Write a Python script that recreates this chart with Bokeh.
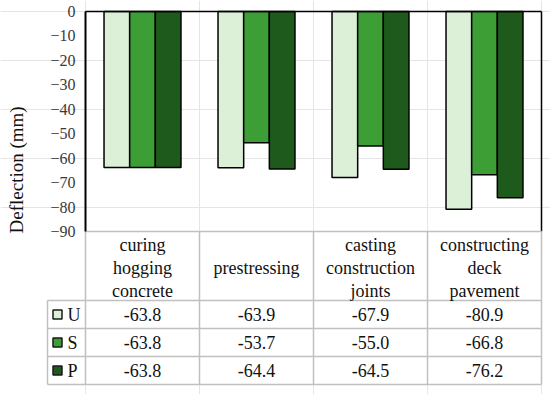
from bokeh.plotting import figure
from bokeh.models import ColumnDataSource, Range1d, LinearAxis, FixedTicker, Label
from bokeh.core.properties import value
from bokeh.embed import file_html
from bokeh.resources import INLINE

# ---------------- data ----------------
categories = ["curing\nhogging\nconcrete", "prestressing",
              "casting\nconstruction\njoints", "constructing\ndeck\npavement"]
series = ["U", "S", "P"]
u_vals = [-63.8, -63.9, -67.9, -80.9]
s_vals = [-63.8, -53.7, -55.0, -66.8]
p_vals = [-63.8, -64.4, -64.5, -76.2]
y_ticks = [0, -10, -20, -30, -40, -50, -60, -70, -80, -90]
y_tick_labels = ["0", "\u221210", "\u221220", "\u221230", "\u221240", "\u221250",
                 "\u221260", "\u221270", "\u221280", "\u221290"]
y_label = "Deflection  (mm)"
colors = ["#DCEFD7", "#3D9E36", "#1E5A1B"]

# ---------------- geometry ----------------
W, H = 550, 394
PLOT_L, PLOT_R = 85, 541
PLOT_T, PLOT_B = 11, 231
LEG_L = 47
HEADER_H, ROW_H = 69, 28
NCAT = len(categories)
XPU = (PLOT_R - PLOT_L) / NCAT
YPU = (PLOT_B - PLOT_T) / 90.0
FONT = "Liberation Serif"
GRID = "#C0C0C0"


def px_x(fx):
    return (fx - PLOT_L) / XPU


def px_y(fy):
    return -(fy - PLOT_T) / YPU


p = figure(width=W, height=H, output_backend="svg", toolbar_location=None,
           x_axis_location=None, y_axis_location=None,
           x_range=Range1d(px_x(0), px_x(W)),
           y_range=Range1d(px_y(H), px_y(0)),
           min_border=0, outline_line_color=None)
p.min_border_left = 0
p.min_border_right = 0
p.min_border_top = 0
p.min_border_bottom = 0
p.background_fill_color = "white"
p.border_fill_color = "white"
p.extra_y_ranges = {"table": Range1d(start=H - PLOT_B, end=-PLOT_B)}

# ---------------- bars ----------------
bw = 0.225
all_vals = [u_vals, s_vals, p_vals]
for j, (name, vals) in enumerate(zip(series, all_vals)):
    xs = [i + 0.5 + (j - 1) * bw for i in range(NCAT)]
    src = ColumnDataSource(dict(x=xs, top=[0] * NCAT, bottom=vals))
    p.vbar(x="x", top="top", bottom="bottom", width=bw, source=src,
           fill_color=colors[j], line_color="black", line_width=1.5)

# frame lines (top & right black)
p.segment(x0=[0, NCAT], y0=[0, 0], x1=[NCAT, NCAT], y1=[0, -90],
          line_color="black", line_width=1.5)

# y axis at fixed location
yax = LinearAxis(fixed_location=0, bounds=(-90, 0),
                 ticker=FixedTicker(ticks=y_ticks),
                 major_label_overrides={t: l for t, l in zip(y_ticks, y_tick_labels)},
                 major_tick_in=0, major_tick_out=0, minor_tick_in=0, minor_tick_out=0,
                 axis_line_color="black", axis_line_width=2,
                 major_label_standoff=10,
                 major_label_text_font=FONT, major_label_text_font_size="16px",
                 major_label_text_color="#3A3A3A")
p.add_layout(yax, "left")

# ---------------- table ----------------
leg_x = px_x(LEG_L)
row_t = [HEADER_H + ROW_H * k for k in range(len(series) + 1)]
hx0 = [0] + [leg_x] * len(row_t)
hx1 = [NCAT] * (len(row_t) + 1)
hy = [0] + row_t
p.segment(x0=hx0, y0=hy, x1=hx1, y1=hy, line_color=GRID, line_width=1.5,
          y_range_name="table")
vx = list(range(NCAT + 1)) + [leg_x]
vy0 = [0] * (NCAT + 1) + [HEADER_H]
vy1 = [row_t[-1]] * (NCAT + 2)
p.segment(x0=vx, y0=vy0, x1=vx, y1=vy1, line_color=GRID, line_width=1.5,
          y_range_name="table")

# header texts
p.text(x=[i + 0.5 for i in range(NCAT)], y=[HEADER_H / 2 + 2] * NCAT, text=categories,
       text_align="center", text_baseline="middle", text_line_height=1.15,
       text_font=value(FONT), text_font_size=value("18px"), text_color="#111111",
       y_range_name="table")

# values
for j, vals in enumerate(all_vals):
    yc = HEADER_H + ROW_H * (j + 0.5)
    p.text(x=[i + 0.5 for i in range(NCAT)], y=[yc] * NCAT,
           text=["%.1f" % v for v in vals],
           text_align="center", text_baseline="middle",
           text_font=value(FONT), text_font_size=value("18px"), text_color="#111111",
           y_range_name="table")

# legend keys
ly = [HEADER_H + ROW_H * (j + 0.5) for j in range(len(series))]
p.scatter(x=[px_x(57)] * len(series), y=ly, marker="square", size=9,
          fill_color=colors, line_color="#1A1A1A", line_width=1.5, y_range_name="table")
p.text(x=[px_x(67)] * len(series), y=ly, text=series, text_align="left",
       text_baseline="middle", text_font=value(FONT), text_font_size=value("18px"),
       text_color="#111111", y_range_name="table")

# y label
p.add_layout(Label(x=px_x(16), y=px_y(167), text=y_label, angle=90, angle_units="deg",
                   text_align="center", text_baseline="middle",
                   text_font=FONT, text_font_size="19px", text_color="#111111"))

open("out.html", "w").write(file_html(p, INLINE))
